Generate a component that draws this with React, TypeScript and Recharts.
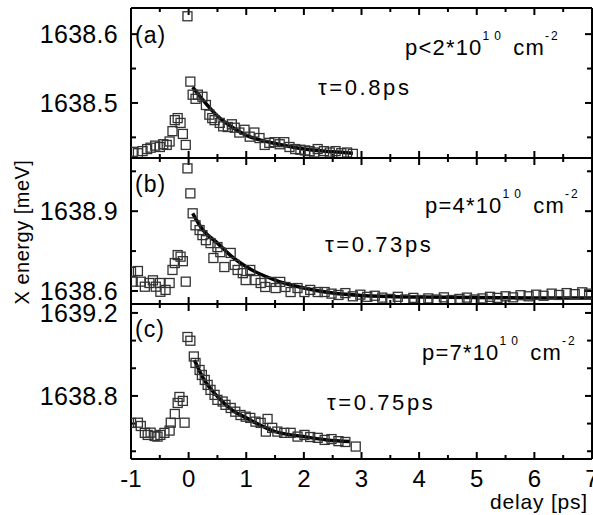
import React from 'react';
import { ComposedChart, Scatter, Line, XAxis, YAxis } from 'recharts';

// delay axis (shared)
const delayTicks = [-1, -0.5, 0, 0.5, 1, 1.5, 2, 2.5, 3, 3.5, 4, 4.5, 5, 5.5, 6, 6.5, 7];
const delayDomain: [number, number] = [-1, 7];

// panel (a) p<2*10^10
const delayA = [-0.97, -0.88, -0.8, -0.72, -0.66, -0.58, -0.5, -0.44, -0.38, -0.33, -0.28, -0.24, -0.19, -0.14, -0.1, -0.05, -0.02, 0.03, 0.07, 0.12, 0.16, 0.24, 0.3, 0.36, 0.41, 0.45, 0.54, 0.6, 0.68, 0.75, 0.8, 0.88, 0.97, 1.06, 1.14, 1.23, 1.32, 1.4, 1.49, 1.58, 1.66, 1.75, 1.85, 1.94, 2.02, 2.1, 2.18, 2.24, 2.35, 2.45, 2.55, 2.65, 2.75, 2.85];
const energyA = [1638.429, 1638.427, 1638.43, 1638.433, 1638.435, 1638.438, 1638.436, 1638.44, 1638.439, 1638.444, 1638.459, 1638.475, 1638.478, 1638.471, 1638.455, 1638.439, 1638.626, 1638.531, 1638.512, 1638.506, 1638.512, 1638.509, 1638.497, 1638.483, 1638.478, 1638.475, 1638.471, 1638.466, 1638.465, 1638.469, 1638.464, 1638.457, 1638.461, 1638.451, 1638.457, 1638.449, 1638.439, 1638.442, 1638.443, 1638.44, 1638.443, 1638.436, 1638.433, 1638.432, 1638.431, 1638.43, 1638.428, 1638.433, 1638.43, 1638.428, 1638.43, 1638.427, 1638.428, 1638.426];
const fitDelayA = [0.07, 0.25, 0.5, 0.75, 1, 1.25, 1.5, 2, 2.5, 2.85];
const fitEnergyA = [1638.523, 1638.504, 1638.481, 1638.465, 1638.453, 1638.446, 1638.441, 1638.433, 1638.429, 1638.427];

// panel (b) p=4*10^10
const delayB = [-1.0, -0.97, -0.88, -0.83, -0.76, -0.68, -0.62, -0.57, -0.5, -0.49, -0.4, -0.33, -0.28, -0.24, -0.19, -0.14, -0.1, -0.05, -0.02, 0.03, 0.07, 0.12, 0.19, 0.24, 0.3, 0.38, 0.43, 0.5, 0.55, 0.62, 0.73, 0.8, 0.85, 0.94, 0.99, 1.07, 1.16, 1.25, 1.33, 1.42, 1.51, 1.59, 1.68, 1.77, 1.89, 2.01, 2.11, 2.24, 2.36, 2.48, 2.6, 2.72, 2.85, 2.98, 3.1, 3.23, 3.36, 3.5, 3.63, 3.76, 3.9, 4.03, 4.16, 4.3, 4.43, 4.56, 4.7, 4.83, 4.96, 5.1, 5.23, 5.36, 5.5, 5.63, 5.76, 5.9, 6.03, 6.16, 6.3, 6.43, 6.56, 6.7, 6.83, 6.95];
const energyB = [1638.672, 1638.635, 1638.675, 1638.635, 1638.616, 1638.63, 1638.64, 1638.616, 1638.63, 1638.597, 1638.604, 1638.63, 1638.679, 1638.705, 1638.735, 1638.729, 1638.712, 1638.635, 1639.061, 1638.967, 1638.892, 1638.847, 1638.829, 1638.81, 1638.791, 1638.78, 1638.724, 1638.765, 1638.746, 1638.69, 1638.743, 1638.698, 1638.679, 1638.667, 1638.641, 1638.679, 1638.641, 1638.63, 1638.615, 1638.634, 1638.611, 1638.634, 1638.615, 1638.596, 1638.611, 1638.596, 1638.604, 1638.596, 1638.596, 1638.59, 1638.585, 1638.592, 1638.58, 1638.586, 1638.578, 1638.582, 1638.575, 1638.57, 1638.578, 1638.568, 1638.574, 1638.566, 1638.572, 1638.568, 1638.576, 1638.566, 1638.57, 1638.575, 1638.568, 1638.572, 1638.578, 1638.574, 1638.58, 1638.576, 1638.584, 1638.58, 1638.586, 1638.582, 1638.59, 1638.585, 1638.592, 1638.588, 1638.595, 1638.59];
const fitDelayB = [0.07, 0.25, 0.5, 0.75, 1, 1.5, 2, 2.5, 3, 4, 5, 6, 7];
const fitEnergyB = [1638.892, 1638.829, 1638.78, 1638.729, 1638.691, 1638.641, 1638.611, 1638.592, 1638.583, 1638.577, 1638.575, 1638.574, 1638.574];

// panel (c) p=7*10^10
const delayC = [-1.0, -0.88, -0.83, -0.76, -0.71, -0.66, -0.59, -0.54, -0.49, -0.42, -0.33, -0.31, -0.24, -0.19, -0.16, -0.1, -0.07, -0.02, 0.03, 0.09, 0.12, 0.19, 0.23, 0.28, 0.33, 0.38, 0.45, 0.5, 0.59, 0.64, 0.73, 0.81, 0.9, 0.99, 1.07, 1.16, 1.25, 1.34, 1.37, 1.45, 1.54, 1.66, 1.77, 1.89, 2.01, 2.11, 2.24, 2.36, 2.48, 2.6, 2.72, 2.9];
const energyC = [1638.67, 1638.671, 1638.655, 1638.622, 1638.612, 1638.623, 1638.607, 1638.604, 1638.612, 1638.622, 1638.633, 1638.671, 1638.713, 1638.766, 1638.795, 1638.776, 1638.671, 1639.084, 1639.066, 1638.99, 1638.959, 1638.925, 1638.901, 1638.877, 1638.853, 1638.829, 1638.805, 1638.781, 1638.773, 1638.757, 1638.742, 1638.724, 1638.708, 1638.7, 1638.694, 1638.676, 1638.67, 1638.628, 1638.689, 1638.646, 1638.628, 1638.622, 1638.622, 1638.604, 1638.612, 1638.602, 1638.598, 1638.588, 1638.592, 1638.582, 1638.578, 1638.556];
const fitDelayC = [0.1, 0.25, 0.5, 0.75, 1, 1.5, 2, 2.4, 2.8];
const fitEnergyC = [1638.973, 1638.887, 1638.797, 1638.733, 1638.694, 1638.628, 1638.604, 1638.588, 1638.58];

const FONT = 'Arial, "Liberation Sans", Helvetica, sans-serif';
const PLOT_LEFT = 131;
const PLOT_RIGHT = 592;

const toRows = (xs: number[], ys: number[]) => xs.map((d, i) => ({ d, e: ys[i] }));

const Square = (props: any) => {
  const { cx, cy } = props;
  if (cx == null || cy == null) return null;
  return <rect x={cx - 4.5} y={cy - 4.5} width={9} height={9} fill="none" stroke="#333" strokeWidth={1.3} />;
};

const makeXTick = (labels: boolean) => (props: any) => {
  const x = Number(props.x);
  const y = Number(props.y);
  const v = props.payload.value;
  if (!labels || !Number.isInteger(v)) return <g />;
  return (
    <text x={x} y={y + 28} textAnchor="middle" fontSize={24} fontFamily={FONT} fill="#000" stroke="none">
      {String(v)}
    </text>
  );
};

const makeYTick = (majors: number[], labels: boolean) => (props: any) => {
  const x = Number(props.x);
  const y = Number(props.y);
  const v = props.payload.value;
  const major = majors.some((m) => Math.abs(m - v) < 1e-6);
  if (!labels || !major) return <g />;
  return (
    <text x={x - 13} y={y} dy="0.36em" textAnchor="end" fontSize={25} letterSpacing={0.3} fontFamily={FONT} fill="#000" stroke="none">
      {v.toFixed(1)}
    </text>
  );
};

// inward tick marks on all four sides of a panel, drawn as filled bars
// with the same linear mapping the axes use
const TickMarks = ({ top, bottom, yDomain, yTicks, yMajors }: { top: number; bottom: number; yDomain: [number, number]; yTicks: number[]; yMajors: number[] }) => {
  const sx = (v: number) => PLOT_LEFT + ((v - delayDomain[0]) / (delayDomain[1] - delayDomain[0])) * (PLOT_RIGHT - PLOT_LEFT);
  const sy = (v: number) => bottom - ((v - yDomain[0]) / (yDomain[1] - yDomain[0])) * (bottom - top);
  return (
    <g className="tick-marks">
      {delayTicks.map((v) => {
        const len = Number.isInteger(v) ? 7 : 4;
        const x = sx(v);
        return (
          <g key={`x${v}`}>
            <rect x={x - 1} y={bottom - len} width={2} height={len} fill="#000" />
            <rect x={x - 1} y={top} width={2} height={len} fill="#000" />
          </g>
        );
      })}
      {yTicks.map((v) => {
        const len = yMajors.some((m) => Math.abs(m - v) < 1e-6) ? 7 : 5;
        const y = sy(v);
        return (
          <g key={`y${v}`}>
            <rect x={PLOT_LEFT} y={y - 1} width={len} height={2} fill="#000" />
            <rect x={PLOT_RIGHT - len} y={y - 1} width={len} height={2} fill="#000" />
          </g>
        );
      })}
    </g>
  );
};

interface PanelProps {
  top: number;
  bottom: number;
  pts: { d: number; e: number }[];
  fit: { d: number; e: number }[];
  yDomain: [number, number];
  yTicks: number[];
  yMajors: number[];
  xLabels?: boolean;
  children?: React.ReactNode;
}

const axisLine = { stroke: '#000', strokeWidth: 2 };

// axes get 1px of room each (Recharts skips drawing an axis of size 0)
const Panel = ({ top, bottom, pts, fit, yDomain, yTicks, yMajors, xLabels = false, children }: PanelProps) => (
  <div style={{ position: 'absolute', left: 0, top: 0 }}>
    <ComposedChart width={593} height={515} margin={{ top: top - 1, right: 0, bottom: 515 - bottom - 1, left: PLOT_LEFT - 1 }}>
      <XAxis xAxisId="bottom" dataKey="d" type="number" domain={delayDomain} allowDataOverflow ticks={delayTicks} interval={0}
        height={1} tickSize={0} tickMargin={0} tickLine={false} axisLine={axisLine} tick={makeXTick(xLabels)} />
      <XAxis xAxisId="top" orientation="top" dataKey="d" type="number" domain={delayDomain} allowDataOverflow ticks={delayTicks} interval={0}
        height={1} tickSize={0} tickMargin={0} tickLine={false} axisLine={axisLine} tick={makeXTick(false)} />
      <YAxis yAxisId="left" dataKey="e" type="number" domain={yDomain} allowDataOverflow ticks={yTicks} interval={0}
        width={1} tickSize={0} tickMargin={0} tickLine={false} axisLine={axisLine} tick={makeYTick(yMajors, true)} />
      <YAxis yAxisId="right" orientation="right" dataKey="e" type="number" domain={yDomain} allowDataOverflow ticks={yTicks} interval={0}
        width={1} tickSize={0} tickMargin={0} tickLine={false} axisLine={axisLine} tick={makeYTick(yMajors, false)} />
      <Scatter data={pts} dataKey="e" xAxisId="bottom" yAxisId="left" shape={Square} isAnimationActive={false} />
      <Line data={fit} dataKey="e" xAxisId="bottom" yAxisId="left" type="monotone" dot={false} activeDot={false}
        stroke="#000" strokeWidth={3.5} isAnimationActive={false} />
      <TickMarks top={top} bottom={bottom} yDomain={yDomain} yTicks={yTicks} yMajors={yMajors} />
      {children}
    </ComposedChart>
  </div>
);

const Density = ({ x, y, rel, base }: { x: number; y: number; rel: string; base: string }) => (
  <text x={x} y={y} fontSize={22} letterSpacing={1.2} fontFamily={FONT} fill="#000">
    {`p${rel}${base}*10`}
    <tspan dy={-15} fontSize={12} letterSpacing={5}>10</tspan>
    <tspan dy={15} fontSize={22} letterSpacing={1.2}>{' cm'}</tspan>
    <tspan dy={-15} fontSize={12} letterSpacing={2}>-2</tspan>
  </text>
);

const Tau = ({ x, y, value }: { x: number; y: number; value: string }) => (
  <text x={x} y={y} fontSize={22} letterSpacing={2.6} fontFamily={FONT} fill="#000">{`τ=${value}ps`}</text>
);

const Tag = ({ y, label }: { y: number; label: string }) => (
  <text x={135} y={y} fontSize={23} letterSpacing={1} fontFamily={FONT} fill="#000">{label}</text>
);

export default function App() {
  return (
    <div style={{ position: 'absolute', left: 0, top: 0, width: 593, height: 515, background: '#fff', fontFamily: FONT }}>
      <Panel top={8} bottom={158} pts={toRows(delayA, energyA)} fit={toRows(fitDelayA, fitEnergyA)}
        yDomain={[1638.42, 1638.638]} yTicks={[1638.45, 1638.5, 1638.55, 1638.6]} yMajors={[1638.5, 1638.6]}>
        <Tag y={43} label="(a)" />
        <Density x={405} y={55} rel="<" base="2" />
        <Tau x={318} y={95} value="0.8" />
      </Panel>
      <Panel top={158} bottom={304} pts={toRows(delayB, energyB)} fit={toRows(fitDelayB, fitEnergyB)}
        yDomain={[1638.551, 1639.1]} yTicks={[1638.6, 1638.75, 1638.9, 1639.05]} yMajors={[1638.6, 1638.9]}>
        <Tag y={192} label="(b)" />
        <Density x={425} y={213} rel="=" base="4" />
        <Tau x={325} y={252} value="0.73" />
        <text transform="rotate(-90 22 232)" x={22} y={232} dy="0.35em" textAnchor="middle" fontSize={20}
          letterSpacing={0.5} fontFamily={FONT} fill="#000">X energy [meV]</text>
      </Panel>
      <Panel top={304} bottom={459} pts={toRows(delayC, energyC)} fit={toRows(fitDelayC, fitEnergyC)} xLabels
        yDomain={[1638.496, 1639.243]} yTicks={[1638.5333, 1638.6667, 1638.8, 1638.9333, 1639.0667, 1639.2]}
        yMajors={[1638.8, 1639.2]}>
        <Tag y={337} label="(c)" />
        <Density x={422} y={360} rel="=" base="7" />
        <Tau x={327} y={410} value="0.75" />
        <text x={588} y={509} textAnchor="end" fontSize={21} letterSpacing={0.8} fontFamily={FONT} fill="#000">delay [ps]</text>
      </Panel>
    </div>
  );
}
